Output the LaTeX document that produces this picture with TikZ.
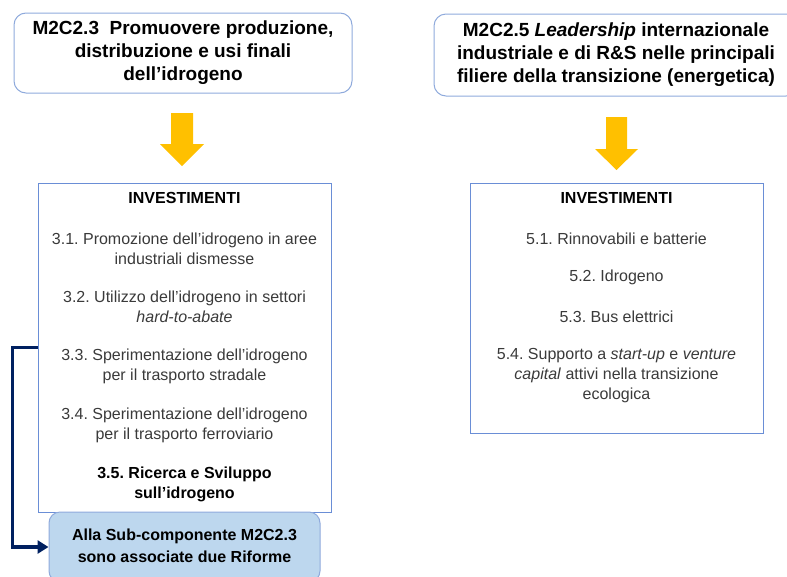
\documentclass[tikz,border=0pt]{standalone}
\usepackage{fontspec}
\setmainfont{Liberation Sans}
\usetikzlibrary{arrows.meta}
\definecolor{boxblue}{HTML}{8FAADC}
\definecolor{invblue}{HTML}{6A8ED6}
\definecolor{gold}{HTML}{FFC000}
\definecolor{navy}{HTML}{002060}
\definecolor{rifill}{HTML}{BDD7EE}
\definecolor{itemgray}{HTML}{3A3A3A}
\frenchspacing
\begin{document}
\begin{tikzpicture}[x=1pt,y=-1pt,
  topbox/.style={draw=boxblue, line width=1pt, rounded corners=12pt, align=center,
    font=\fontsize{19}{23}\selectfont\bfseries, inner sep=0pt},
  invbox/.style={draw=invblue, line width=0.9pt, inner sep=0pt},
  headtext/.style={font=\fontsize{16}{19}\selectfont\bfseries, text=black, inner sep=0pt},
  itemtext/.style={font=\fontsize{16}{20}\selectfont, text=itemgray, align=center, inner sep=0pt},
  rifbox/.style={draw=boxblue, fill=rifill, line width=1pt, rounded corners=11pt, align=center,
    font=\fontsize{16}{22}\selectfont\bfseries, inner sep=0pt},
  blockarrow/.style={fill=gold},
  link/.style={draw=navy, line width=3.8pt, -{Triangle[length=11pt,width=13pt]}}
]
\useasboundingbox (0,0) rectangle (787,576);

% top boxes
\node[topbox, minimum width=338pt, minimum height=80pt] (t1) at (183,53)
  {M2C2.3\ \ Promuovere produzione,\\ distribuzione e usi finali\\ dell’idrogeno};
\node[topbox, minimum width=364pt, minimum height=82pt] (t2) at (616,55) {};
\node[font=\fontsize{19}{23}\selectfont\bfseries, align=center, inner sep=0pt] (t2text) at (616,55)
  {M2C2.5 \textit{Leadership} internazionale\\ industriale e di R\&S nelle principali\\ filiere della transizione (energetica)};

% yellow block arrows
\fill[blockarrow] (171,113) -- (193,113) -- (193,144) -- (204,144) -- (182,166) -- (160,144) -- (171,144) -- cycle;
\fill[blockarrow] (606,117) -- (627,117) -- (627,149) -- (638,149) -- (616.5,170) -- (595,149) -- (606,149) -- cycle;

% investment boxes
\node[invbox, minimum width=293pt, minimum height=329pt] (inv1) at (184.5,347.5) {};
\node[invbox, minimum width=293pt, minimum height=250pt] (inv2) at (616.5,308) {};

\node[headtext] (h1) at (184.5,198) {INVESTIMENTI};
\node[itemtext] (i31) at (184.5,249) {3.1. Promozione dell’idrogeno in aree\\ industriali dismesse};
\node[itemtext] (i32) at (184.5,307) {3.2. Utilizzo dell’idrogeno in settori\\ \textit{hard-to-abate}};
\node[itemtext] (i33) at (184.5,366) {3.3. Sperimentazione dell’idrogeno\\ per il trasporto stradale};
\node[itemtext] (i34) at (184.5,425) {3.4. Sperimentazione dell’idrogeno\\ per il trasporto ferroviario};
\node[itemtext, text=black, font=\fontsize{16}{20}\selectfont\bfseries] (i35) at (184.5,484) {3.5. Ricerca e Sviluppo\\ sull’idrogeno};

\node[headtext] (h2) at (616.5,198) {INVESTIMENTI};
\node[itemtext] (i51) at (616.5,239) {5.1. Rinnovabili e batterie};
\node[itemtext] (i52) at (616.5,277) {5.2. Idrogeno};
\node[itemtext] (i53) at (616.5,317) {5.3. Bus elettrici};
\node[itemtext] (i54) at (616.5,376) {5.4. Supporto a \textit{start-up} e \textit{venture}\\ \textit{capital} attivi nella transizione\\ ecologica};

% reforms box
\node[rifbox, minimum width=271pt, minimum height=70pt] (rif) at (184.5,547) {};
\node[font=\fontsize{16}{22}\selectfont\bfseries, align=center, inner sep=0pt] (riftext) at (184.5,546)
  {Alla Sub-componente M2C2.3\\ sono associate due Riforme};

% connector
\draw[link] (inv1.west) -- ++(-25,0) |- (rif.west);
\end{tikzpicture}
\end{document}
